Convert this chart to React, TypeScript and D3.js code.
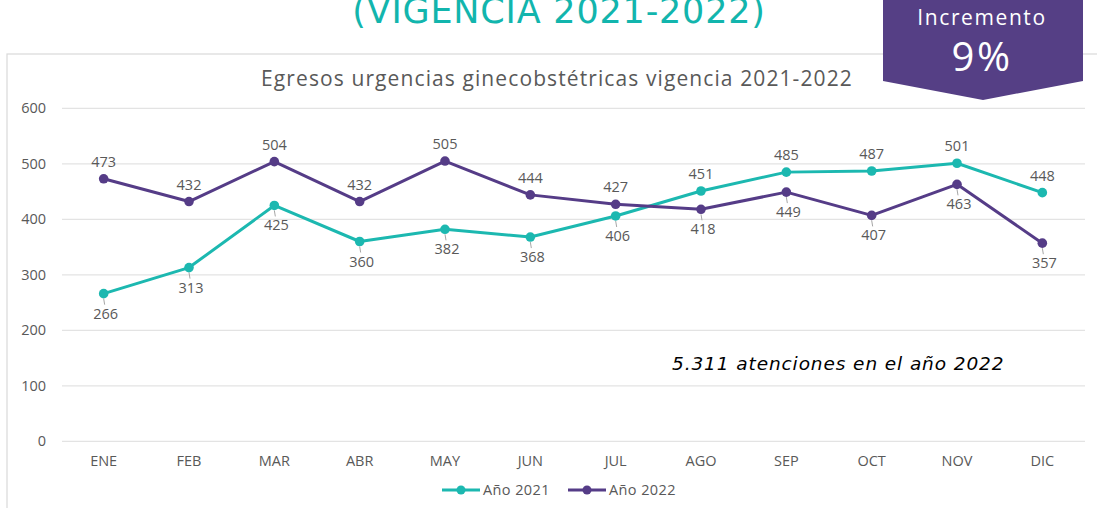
import React from "react";
import * as d3 from "d3";

const months = ["ENE", "FEB", "MAR", "ABR", "MAY", "JUN", "JUL", "AGO", "SEP", "OCT", "NOV", "DIC"];
const values2021 = [266, 313, 425, 360, 382, 368, 406, 451, 485, 487, 501, 448];
const values2022 = [473, 432, 504, 432, 505, 444, 427, 418, 449, 407, 463, 357];
const place2021 = ["b", "b", "b", "b", "b", "b", "b", "a", "a", "a", "a", "a"];
const place2022 = ["a", "a", "a", "a", "a", "a", "a", "b", "b", "b", "b", "b"];
const yTicks = [0, 100, 200, 300, 400, 500, 600];
const seriesNames = ["Año 2021", "Año 2022"];

const TEAL = "#1cb8b0";
const PURPLE = "#553c87";
const GRAY = "#595959";
const FONT = "'Open Sans', 'Noto Sans', sans-serif";

export default function App() {
  const W = 1097, H = 508;
  const x = d3.scaleBand<string>().domain(months).range([61, 1085]);
  const y = d3.scaleLinear().domain([0, 600]).range([441.3, 108.3]);
  const cx = (m: string) => (x(m) as number) + x.bandwidth() / 2;
  const line = d3.line<number>().x((_, i) => cx(months[i])).y((v) => y(v));

  const series = [
    { name: seriesNames[0], values: values2021, place: place2021, color: TEAL },
    { name: seriesNames[1], values: values2022, place: place2022, color: PURPLE },
  ];

  return (
    <svg width={W} height={H} style={{ position: "absolute", left: 0, top: 0, background: "#fff" }}>
      {/* top title, cut off like the reference */}
      <text x={559} y={23} textAnchor="middle" fill="#12b5ad" fontFamily="'DejaVu Sans', Verdana, sans-serif" fontSize={35} letterSpacing={0.8}>
        (VIGENCIA 2021-2022)
      </text>
      {/* chart frame */}
      <rect x={7} y={54} width={1100} height={460} fill="#fff" stroke="#d9d9d9" strokeWidth={1.2} />
      {/* chart title */}
      <text x={557} y={86} textAnchor="middle" fill={GRAY} fontFamily={FONT} fontSize={21} letterSpacing={1.1}>
        Egresos urgencias ginecobstétricas vigencia 2021-2022
      </text>
      {/* gridlines and y ticks */}
      {yTicks.map((t) => (
        <g key={t}>
          <line x1={62} x2={1085} y1={y(t)} y2={y(t)} stroke="#e3e3e3" strokeWidth={1.3} />
          <text x={46} y={y(t) + 5} textAnchor="end" fill={GRAY} fontFamily={FONT} fontSize={14.5}>
            {t}
          </text>
        </g>
      ))}
      {/* x labels */}
      {months.map((m) => (
        <text key={m} x={cx(m)} y={466} textAnchor="middle" fill={GRAY} fontFamily={FONT} fontSize={14.5}>
          {m}
        </text>
      ))}
      {/* series */}
      {series.map((s) => (
        <g key={s.name}>
          <path d={line(s.values) || ""} fill="none" stroke={s.color} strokeWidth={3} strokeLinejoin="round" />
          {s.values.map((v, i) => (
            <circle key={i} cx={cx(months[i])} cy={y(v)} r={4.8} fill={s.color} />
          ))}
        </g>
      ))}
      {/* data labels */}
      {series.map((s) => (
        <g key={s.name + "l"}>
          {s.values.map((v, i) => {
            const px = cx(months[i]);
            const py = y(v);
            if (s.place[i] === "a") {
              return (
                <text key={i} x={px} y={py - 12} textAnchor="middle" fill={GRAY} fontFamily={FONT} fontSize={14.5}>
                  {v}
                </text>
              );
            }
            return (
              <g key={i}>
                <line x1={px} y1={py + 5} x2={px + 1} y2={py + 11} stroke="#a6a6a6" strokeWidth={1} />
                <text x={px + 2} y={py + 25} textAnchor="middle" fill={GRAY} fontFamily={FONT} fontSize={14.5}>
                  {v}
                </text>
              </g>
            );
          })}
        </g>
      ))}
      {/* annotation */}
      <text x={672} y={370} fill="#000" fontFamily="'DejaVu Sans', Verdana, sans-serif" fontStyle="italic" fontSize={18.5} letterSpacing={0.9}>
        5.311 atenciones en el año 2022
      </text>
      {/* legend */}
      {series.map((s, i) => {
        const lx = 442 + i * 126;
        return (
          <g key={s.name + "g"}>
            <line x1={lx} x2={lx + 38} y1={490} y2={490} stroke={s.color} strokeWidth={3} />
            <circle cx={lx + 19} cy={490} r={4.5} fill={s.color} />
            <text x={lx + 41} y={495} fill={GRAY} fontFamily={FONT} fontSize={14.5} letterSpacing={0.4}>
              {s.name}
            </text>
          </g>
        );
      })}
      {/* Incremento badge */}
      <path d="M883,0 L1083,0 L1083,81 L983,100 L883,81 Z" fill="#553f85" />
      <text x={982} y={25} textAnchor="middle" fill="#fff" fontFamily={FONT} fontSize={21} letterSpacing={1.6}>
        Incremento
      </text>
      <text x={982} y={71} textAnchor="middle" fill="#fff" fontFamily={FONT} fontSize={40} letterSpacing={2.5}>
        9%
      </text>
    </svg>
  );
}
